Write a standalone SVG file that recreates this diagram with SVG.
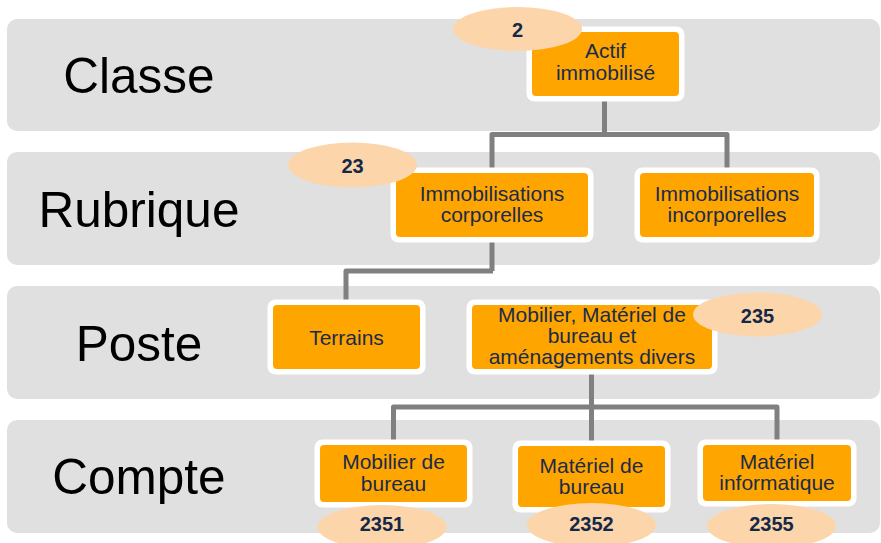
<svg xmlns="http://www.w3.org/2000/svg" width="881" height="543" viewBox="0 0 881 543">
<style>
.band{fill:#E0E0E0}
.lvl{font-family:"Liberation Sans",Arial,sans-serif;font-size:49.5px;fill:#000;text-anchor:middle}
.outer{fill:#FFFFFF}
.inner{fill:#FFA500}
.nt{font-family:"Liberation Sans",Arial,sans-serif;font-size:21px;fill:#1B2B4B;text-anchor:middle}
.badge{fill:#FDD5AA}
.num{font-family:"Liberation Sans",Arial,sans-serif;font-size:20px;font-weight:bold;fill:#142848;text-anchor:middle}
.conn{fill:none;stroke:#808080;stroke-width:5;stroke-linejoin:round}
</style>
<rect width="881" height="543" fill="#FFFFFF"/>
<g id="bands">
<rect class="band" x="7" y="19" width="873" height="112" rx="10"/>
<rect class="band" x="7" y="152" width="873" height="113" rx="10"/>
<rect class="band" x="7" y="286" width="873" height="113" rx="10"/>
<rect class="band" x="7" y="420" width="873" height="113" rx="10"/>
<text class="lvl" x="139" y="93">Classe</text>
<text class="lvl" x="139" y="227">Rubrique</text>
<text class="lvl" x="139" y="361">Poste</text>
<text class="lvl" x="139" y="494">Compte</text>
</g>
<g id="connectors">
<path class="conn" d="M604.5 98 V134.5 M492 170 V134.5 H727 V170"/>
<path class="conn" d="M492 239 V271 M346 303 V271 H493"/>
<path class="conn" d="M591.5 371 V407 M393.5 442 V407 H777 V442 M591.5 407 V443"/>
</g>
<g id="n-actif">
<rect class="outer" x="526.5" y="26.5" width="158" height="75" rx="8"/>
<rect class="inner" x="532" y="32" width="147" height="64" rx="4"/>
<text class="nt" x="605.5" y="58">Actif</text>
<text class="nt" x="605.5" y="80">immobilisé</text>
</g>
<g id="n-corp">
<rect class="outer" x="390.5" y="167.5" width="203" height="75" rx="8"/>
<rect class="inner" x="396" y="173" width="192" height="64" rx="4"/>
<text class="nt" x="492" y="200.5">Immobilisations</text>
<text class="nt" x="492" y="221.5">corporelles</text>
</g>
<g id="n-incorp">
<rect class="outer" x="634.5" y="167.5" width="185" height="75" rx="8"/>
<rect class="inner" x="640" y="173" width="174" height="64" rx="4"/>
<text class="nt" x="727" y="200.5">Immobilisations</text>
<text class="nt" x="727" y="221.5">incorporelles</text>
</g>
<g id="n-terrains">
<rect class="outer" x="267.5" y="299.5" width="158" height="75" rx="8"/>
<rect class="inner" x="273" y="305" width="147" height="64" rx="4"/>
<text class="nt" x="346.5" y="345">Terrains</text>
</g>
<g id="n-mobilier">
<rect class="outer" x="466.5" y="299.5" width="251" height="75" rx="8"/>
<rect class="inner" x="472" y="305" width="240" height="64" rx="4"/>
<text class="nt" x="592" y="322">Mobilier, Matériel de</text>
<text class="nt" x="592" y="343">bureau et</text>
<text class="nt" x="592" y="364">aménagements divers</text>
</g>
<g id="n-mobbureau">
<rect class="outer" x="314.5" y="439.5" width="158" height="68" rx="8"/>
<rect class="inner" x="320" y="445" width="147" height="57" rx="4"/>
<text class="nt" x="393.5" y="469">Mobilier de</text>
<text class="nt" x="393.5" y="491">bureau</text>
</g>
<g id="n-matbureau">
<rect class="outer" x="512.5" y="440.5" width="158" height="72" rx="8"/>
<rect class="inner" x="518" y="446" width="147" height="61" rx="4"/>
<text class="nt" x="591.5" y="473">Matériel de</text>
<text class="nt" x="591.5" y="494">bureau</text>
</g>
<g id="n-matinfo">
<rect class="outer" x="697.5" y="439.5" width="159" height="67" rx="8"/>
<rect class="inner" x="703" y="445" width="148" height="56" rx="4"/>
<text class="nt" x="777" y="469">Matériel</text>
<text class="nt" x="777" y="490">informatique</text>
</g>
<g id="b-2">
<ellipse class="badge" cx="517.5" cy="29" rx="64.5" ry="22"/>
<text class="num" x="517.5" y="37">2</text>
</g>
<g id="b-23">
<ellipse class="badge" cx="352.5" cy="165" rx="64.5" ry="22.5"/>
<text class="num" x="352.5" y="173">23</text>
</g>
<g id="b-235">
<ellipse class="badge" cx="757.5" cy="314.5" rx="64.5" ry="22"/>
<text class="num" x="757.5" y="323">235</text>
</g>
<g id="b-2351">
<ellipse class="badge" cx="382" cy="527" rx="64.5" ry="22"/>
<text class="num" x="382" y="531">2351</text>
</g>
<g id="b-2352">
<ellipse class="badge" cx="591.5" cy="525" rx="64.5" ry="22"/>
<text class="num" x="591.5" y="531">2352</text>
</g>
<g id="b-2355">
<ellipse class="badge" cx="771.5" cy="526" rx="64.5" ry="22"/>
<text class="num" x="771.5" y="531">2355</text>
</g>
</svg>
